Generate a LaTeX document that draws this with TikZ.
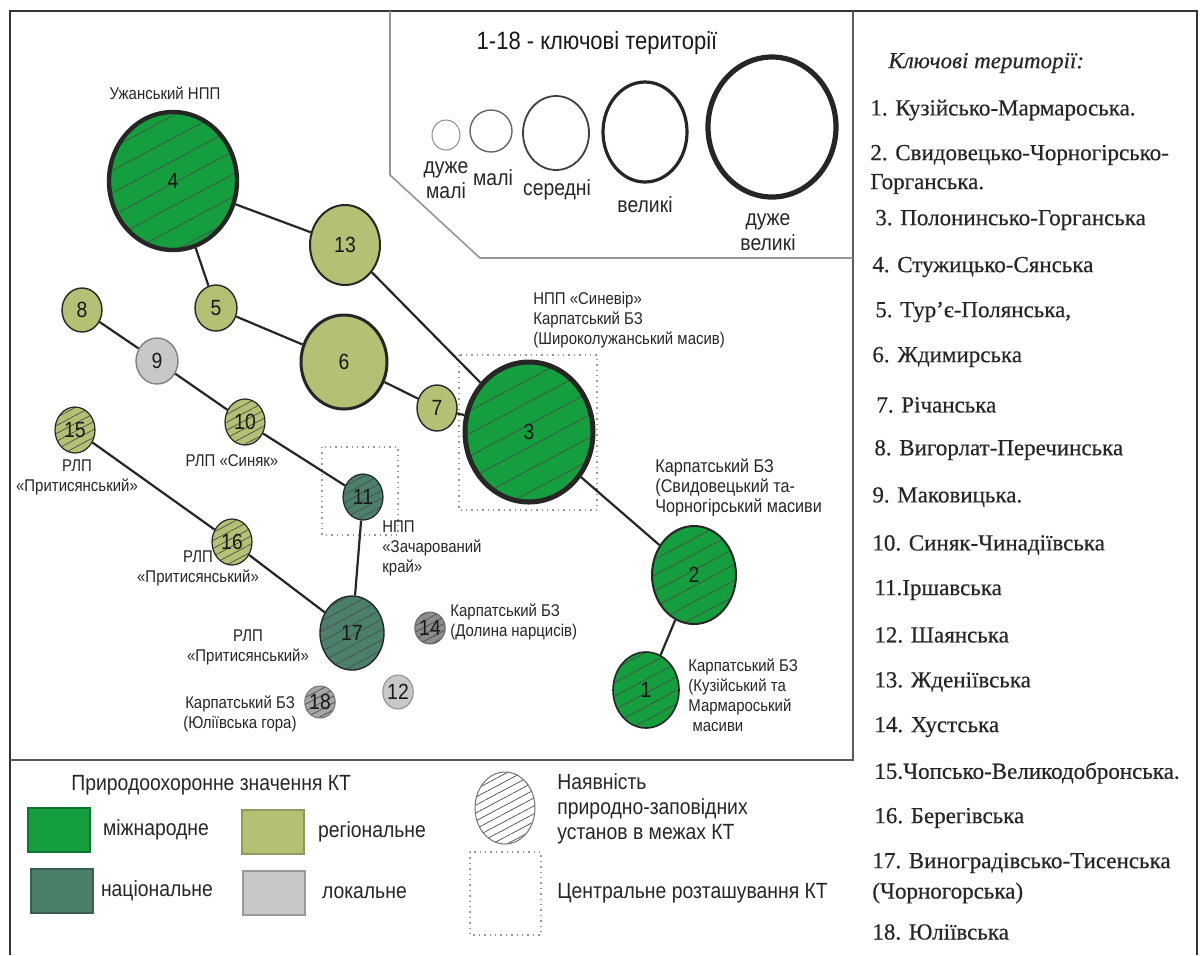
\documentclass[tikz,border=0pt]{standalone}
\usepackage{fontspec}
\setmainfont{Liberation Sans}
\newfontfamily\mapfont[FakeStretch=0.88]{Liberation Sans}
\newfontfamily\listfont[FakeBold=0.4]{Liberation Serif}
\usetikzlibrary{positioning,shapes.geometric,patterns.meta}

\definecolor{intgreen}{RGB}{20,158,62}
\definecolor{reggreen}{RGB}{181,192,116}
\definecolor{natgreen}{RGB}{74,128,106}
\definecolor{locgray}{RGB}{200,200,200}
\definecolor{framegray}{RGB}{150,150,150}

\tikzset{
  sz/.style 2 args={ellipse, draw=black!85, inner sep=0pt, minimum width=#1pt, minimum height=#2pt},
  kt/.style 2 args={sz={#1}{#2}, text=black!90, font=\mapfont\fontsize{11}{12}\selectfont},
  hatched/.style 2 args={preaction={fill=#1}, pattern={Lines[angle=28,distance=#2,line width=0.35pt]}, pattern color=black!70},
  edge/.style={line width=1.1pt, black!85},
  cbox/.style={framegray, dotted, line width=0.7pt},
  lbl/.style={font=\mapfont\fontsize{8.5}{10}\selectfont, text=black!85, inner sep=0pt},
  slbl/.style={font=\mapfont\fontsize{11}{12.5}\selectfont, text=black!85, inner sep=0pt, align=center},
  sq/.style={rectangle, minimum width=31pt, minimum height=22pt, inner sep=0pt, line width=0.6pt},
  item/.style={anchor=west, inner sep=0pt, text=black!85, font=\listfont\fontsize{11.5}{13}\selectfont}
}

\begin{document}
\begin{tikzpicture}[x=0.5pt, y=-0.5pt, node distance=7pt]
\useasboundingbox[fill=white] (0,0) rectangle (1203,955);

\draw[line width=1.3pt, black!80] (10,955) -- (10,11) -- (1197,11) -- (1197,955);
\draw[line width=1pt, black!65] (853,11) -- (853,760) -- (10,760);
\draw[line width=0.8pt, framegray] (390,11) -- (390,175) -- (480,258) -- (853,258);

\draw[cbox] (459,355) rectangle (597,510);
\draw[cbox] (322,447) rectangle (398,535);

% key territories
\node[kt={64}{69}, hatched={intgreen}{10pt}, line width=2.2pt] (n4) at (173,181) {4};
\node[kt={35}{40}, fill=reggreen, line width=1pt] (n13) at (345,245) {13};
\node[kt={21}{23}, fill=reggreen, line width=0.7pt] (n5) at (216,308) {5};
\node[kt={20}{22}, fill=reggreen, line width=0.7pt] (n8) at (82,310) {8};
\node[kt={21}{23}, fill=locgray, draw=black!50, line width=0.7pt] (n9) at (157,361) {9};
\node[kt={43}{47}, fill=reggreen, line width=1.5pt] (n6) at (344,362) {6};
\node[kt={20}{23}, fill=reggreen, line width=0.7pt] (n7) at (437,408) {7};
\node[kt={64}{70}, hatched={intgreen}{10pt}, line width=2.5pt] (n3) at (529,432) {3};
\node[kt={20}{23}, hatched={reggreen}{3.5pt}, line width=0.6pt] (n10) at (245,422) {10};
\node[kt={20}{23}, hatched={reggreen}{3.5pt}, line width=0.6pt] (n15) at (75,430) {15};
\node[kt={20}{23}, hatched={natgreen}{3.5pt}, line width=0.6pt] (n11) at (363,497) {11};
\node[kt={20}{23}, hatched={reggreen}{3.5pt}, line width=0.6pt] (n16) at (232,542) {16};
\node[kt={42}{49}, hatched={intgreen}{7pt}, line width=1pt] (n2) at (694,575) {2};
\node[kt={32}{37}, hatched={natgreen}{4.5pt}, line width=0.7pt] (n17) at (352,633) {17};
\node[kt={14}{16}, hatched={black!45}{3pt}, draw=black!60, line width=0.5pt] (n14) at (430,628) {14};
\node[kt={15}{17}, fill=locgray, draw=black!45, line width=0.5pt] (n12) at (398,692) {12};
\node[kt={14}{16}, hatched={black!35}{3pt}, draw=black!55, line width=0.5pt] (n18) at (320,702) {18};
\node[kt={33}{38}, hatched={intgreen}{6pt}, line width=0.8pt] (n1) at (646,690) {1};

\draw[edge] (n4) -- (n13);
\draw[edge] (n4) -- (n5);
\draw[edge] (n13) -- (n3);
\draw[edge] (n5) -- (n6);
\draw[edge] (n6) -- (n7);
\draw[edge] (n7) -- (n3);
\draw[edge] (n3) -- (n2);
\draw[edge] (n2) -- (n1);
\draw[edge] (n8) -- (n9);
\draw[edge] (n9) -- (n10);
\draw[edge] (n10) -- (n11);
\draw[edge] (n11) -- (n17);
\draw[edge] (n15) -- (n16);
\draw[edge] (n16) -- (n17);

\node[lbl] (l4) at (165,93) {Ужанський НПП};
\node[lbl, anchor=west, align=left] (l3) at (533,320) {НПП «Синевір»\\Карпатський БЗ\\(Широколужанський масив)};
\node[lbl, anchor=west, align=left, font=\mapfont\fontsize{9.2}{10}\selectfont] (l2) at (655,488) {Карпатський БЗ\\(Свидовецький та-\\Чорногірський масиви};
\node[lbl, anchor=west, align=left] (l1) at (688,695) {Карпатський БЗ\\(Кузійський та\\Мармароський\\\ масиви};
\node[lbl, anchor=west, align=left] (l14) at (450,622) {Карпатський БЗ\\(Долина нарцисів)};
\node[lbl, align=center] (l18) at (240,714) {Карпатський БЗ\\(Юліївська гора)};
\node[lbl, align=center] (l17) at (248,647) {РЛП\\«Притисянський»};
\node[lbl, anchor=west, align=left] (l11) at (382,548) {НПП\\«Зачарований\\край»};
\node[lbl, align=center] (l16) at (198,568) {РЛП\\«Притисянський»};
\node[lbl, align=center] (l15) at (77,477) {РЛП\\«Притисянський»};
\node[lbl] (l10) at (232,461) {РЛП «Синяк»};

% sizes
\node[font=\mapfont\fontsize{12.5}{14}\selectfont, text=black!90] (ttl) at (597,43) {1-18 - ключові території};
\node[sz={14}{15}, draw=black!45, line width=0.5pt] (s1) at (446,135) {};
\node[sz={21}{21}, draw=black!60, line width=0.7pt] (s2) at (491,131) {};
\node[sz={33}{37}, draw=black!75, line width=0.9pt] (s3) at (556,133) {};
\node[sz={42}{50}, line width=1.6pt] (s4) at (645,132) {};
\node[sz={64}{70}, line width=2.6pt] (s5) at (772,127) {};
\node[slbl] (t1) at (446,180) {дуже\\малі};
\node[slbl] (t2) at (493,178) {малі};
\node[slbl] (t3) at (557,190) {середні};
\node[slbl] (t4) at (645,205) {великі};
\node[slbl] (t5) at (768,232) {дуже\\великі};

% legend
\node[slbl, anchor=west] (lg) at (71,785) {Природоохоронне значення КТ};
\node[sq, fill=intgreen, draw=intgreen!75!black] (q1) at (59,830) {};
\node[sq, fill=reggreen, draw=reggreen!80!black] (q2) at (273,832) {};
\node[sq, fill=natgreen, draw=natgreen!75!black] (q3) at (62,891) {};
\node[sq, fill=locgray, draw=black!40] (q4) at (274,893) {};
\node[slbl, right=6pt of q1] {міжнародне};
\node[slbl, right=6.5pt of q2] {регіональне};
\node[slbl, right=3.5pt of q3] {національне};
\node[slbl, right=8pt of q4] {локальне};
\node[sz={30}{36}, hatched={white}{3.5pt}, draw=black!55, line width=0.5pt] (hc) at (505,808) {};
\draw[cbox] (470,852) rectangle (541,935);
\node[slbl, anchor=west, align=left] (lh) at (557,809) {Наявність\\природно-заповідних\\установ в межах КТ};
\node[slbl, anchor=west] (lc) at (557,893) {Центральне розташування КТ};

% list
\node[item, font=\listfont\itshape\fontsize{11.5}{13}\selectfont] at (888,63) {Ключові території:};
\node[item] at (870,110) {1. Кузійсько-Мармароська.};
\node[item] at (870,155) {2. Свидовецько-Чорногірсько-};
\node[item] at (870,184) {Горганська.};
\node[item] at (875,220) {3. Полонинсько-Горганська};
\node[item] at (872,267) {4. Стужицько-Сянська};
\node[item] at (875,312) {5. Тур’є-Полянська,};
\node[item] at (872,357) {6. Ждимирська};
\node[item] at (876,405) {7. Річанська};
\node[item] at (874,450) {8. Вигорлат-Перечинська};
\node[item] at (872,497) {9. Маковицька.};
\node[item] at (872,545) {10. Синяк-Чинадіївська};
\node[item] at (874,590) {11.Іршавська};
\node[item] at (874,635) {12. Шаянська};
\node[item] at (874,682) {13. Жденіївська};
\node[item] at (874,727) {14. Хустська};
\node[item] at (874,773) {15.Чопсько-Великодобронська.};
\node[item] at (874,818) {16. Берегівська};
\node[item] at (872,863) {17. Виноградівсько-Тисенська};
\node[item] at (872,893) {(Чорногорська)};
\node[item] at (872,932) {18. Юліївська};
\end{tikzpicture}
\end{document}
